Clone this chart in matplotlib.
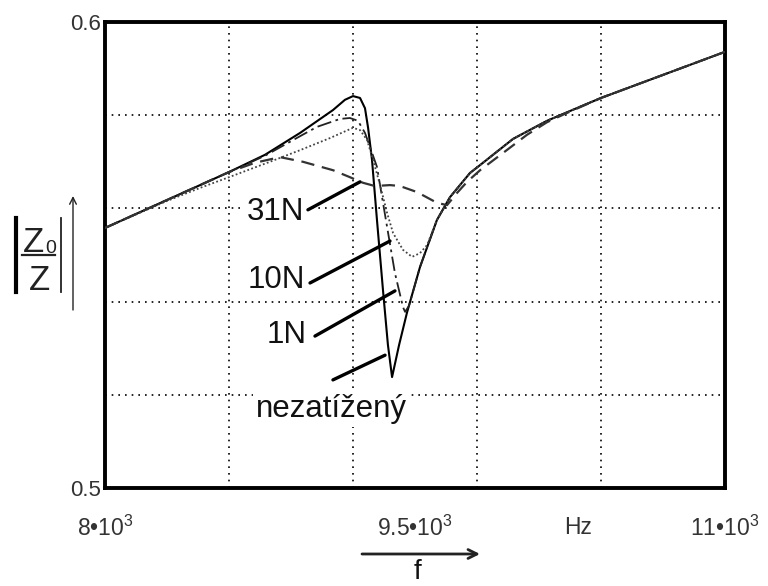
import matplotlib
matplotlib.use("Agg")
import matplotlib.pyplot as plt
from matplotlib.lines import Line2D

plt.rcParams['font.family'] = ['Liberation Sans', 'DejaVu Sans']
plt.rcParams['mathtext.fontset'] = 'custom'
plt.rcParams['mathtext.rm'] = 'Liberation Sans'
plt.rcParams['mathtext.it'] = 'Liberation Sans'

# ---------------- data ----------------
# unloaded ("nezatížený") - solid
f_unloaded = [8000, 8300, 8600, 8774, 8944, 9103, 9161, 9200, 9234, 9258, 9273,
              9292, 9316, 9345, 9369, 9389, 9423, 9461, 9524, 9606, 9669, 9766,
              9815, 9974, 10139, 10298, 10400, 10685, 11000]
z_unloaded = [0.5558, 0.5618, 0.5678, 0.5715, 0.5762, 0.5811, 0.5833, 0.5841, 0.5837,
              0.5815, 0.5773, 0.5704, 0.5575, 0.5425, 0.5307, 0.5238, 0.5307, 0.5376,
              0.5474, 0.5575, 0.5624, 0.5676, 0.5693, 0.5749, 0.5788, 0.5818, 0.5837,
              0.5884, 0.5936]

# 1N - dash-dot
f_1n = [8000, 8300, 8600, 8774, 8944, 9026, 9137, 9185, 9224, 9258, 9282, 9316,
        9365, 9403, 9442, 9452, 9471, 9524, 9606, 9669, 9766, 9815, 9974, 10139,
        10298, 10400, 10685, 11000]
z_1n = [0.5558, 0.5618, 0.5678, 0.5713, 0.5755, 0.5775, 0.5792, 0.5794, 0.5788,
        0.5762, 0.5732, 0.5689, 0.5560, 0.5461, 0.5388, 0.5378, 0.5391, 0.5474,
        0.5575, 0.5624, 0.5676, 0.5693, 0.5749, 0.5788, 0.5818, 0.5837, 0.5884,
        0.5936]

# 10N - dotted
f_10n = [8000, 8300, 8460, 8600, 8798, 8944, 9089, 9200, 9234, 9268, 9297, 9331,
         9365, 9394, 9442, 9486, 9524, 9558, 9606, 9669, 9766, 9815, 9974, 10139,
         10298, 10400, 10685, 11000]
z_10n = [0.5558, 0.5616, 0.5644, 0.5667, 0.5700, 0.5725, 0.5751, 0.5773, 0.5768,
         0.5747, 0.5704, 0.5650, 0.5590, 0.5547, 0.5511, 0.5496, 0.5504, 0.5521,
         0.5575, 0.5624, 0.5676, 0.5693, 0.5749, 0.5788, 0.5818, 0.5837, 0.5884,
         0.5936]

# 31N - dashed
f_31n = [8000, 8300, 8600, 8726, 8847, 8958, 9103, 9185, 9248, 9306, 9379, 9427,
         9510, 9606, 9655, 9703, 9752, 9815, 9926, 10042, 10139, 10226, 10400,
         10685, 11000]
z_31n = [0.5558, 0.5618, 0.5678, 0.5698, 0.5710, 0.5700, 0.5682, 0.5667, 0.5655,
         0.5648, 0.5650, 0.5648, 0.5635, 0.5612, 0.5607, 0.5633, 0.5657, 0.5682,
         0.5719, 0.5758, 0.5785, 0.5803, 0.5837, 0.5884, 0.5936]

grid_x = [8600, 9200, 9800, 10400]
grid_y = [0.52, 0.54, 0.56, 0.58]
xlabel_pos = [8000, 9500, 10290, 11000]
xlabel_txt = ['8•10$^{3}$', '9.5•10$^{3}$', 'Hz', '11•10$^{3}$']
ylabel_pos = [0.5, 0.6]
ylabel_txt = ['0.5', '0.6']

# labels: text, text position, leader start, leader end
labels = ['31N', '10N', '1N', 'nezatížený']
label_xy = [(8827, 0.5592), (8827, 0.5446), (8881, 0.5328), (9094, 0.5170)]
lead_from = [(8982, 0.5597), (8992, 0.5440), (9016, 0.5326), (9103, 0.5232)]
lead_to = [(9234, 0.5657), (9379, 0.5530), (9403, 0.5423), (9355, 0.5285)]

# ---------------- figure ----------------
W, H = 768, 586
fig = plt.figure(figsize=(W / 100, H / 100), dpi=100)
ax = fig.add_axes([105 / W, 1 - 488 / H, 620 / W, 466 / H])

ax.plot(f_unloaded, z_unloaded, color='black', lw=1.5, zorder=4)
ax.plot(f_1n, z_1n, color='#222222', lw=1.3, ls=(0, (8, 2.5, 1.5, 2.5)), zorder=4)
ax.plot(f_10n, z_10n, color='#444444', lw=1.3, ls=(0, (1, 1.3)), zorder=4)
ax.plot(f_31n, z_31n, color='#333333', lw=1.6, ls=(0, (6, 3.5)), zorder=4)

ax.set_xlim(8000, 11000)
ax.set_ylim(0.5, 0.6)

ax.set_xticks(grid_x)
ax.set_xticklabels([])
ax.set_yticks(grid_y)
ax.set_yticklabels([])
ax.set_xticks(xlabel_pos, minor=True)
ax.set_xticklabels(xlabel_txt, minor=True, fontsize=16.5, color='#333333')
ax.set_yticks(ylabel_pos, minor=True)
ax.set_yticklabels(ylabel_txt, minor=True, fontsize=16, color='#333333')
ax.tick_params(axis='both', which='both', length=0)
ax.tick_params(axis='x', which='minor', pad=20)
ax.tick_params(axis='y', which='minor', pad=3)
ax.grid(True, which='major', color='black', lw=1.2, ls=(0, (1, 3.0)))

for s in ax.spines.values():
    s.set_linewidth(2.8)
    s.set_color('black')

for txt, xy, p0, p1 in zip(labels, label_xy, lead_from, lead_to):
    ax.text(xy[0], xy[1], txt, fontsize=22.5, ha='center', va='center', color='#111111',
            zorder=2, bbox=dict(facecolor='white', edgecolor='none', pad=2))
    ax.annotate('', xy=p1, xytext=p0,
                arrowprops=dict(arrowstyle='-', lw=2.4, color='black',
                                shrinkA=0, shrinkB=0), zorder=5)


def fx(px):
    return px / W


def fy(py):
    return 1 - py / H


# y-axis label |Z0/Z|
fig.add_artist(Line2D([fx(16), fx(16)], [fy(218), fy(292)], color='black', lw=3.0))
fig.add_artist(Line2D([fx(61), fx(61)], [fy(218), fy(292)], color='#222222', lw=1.3))
fig.add_artist(Line2D([fx(22), fx(55)], [fy(255), fy(255)], color='#222222', lw=1.6))
fig.text(fx(33), fy(252), 'Z', fontsize=25, ha='center', va='baseline', color='#222222')
fig.text(fx(51), fy(253), '0', fontsize=14, ha='center', va='baseline', color='#222222')
fig.text(fx(39), fy(290), 'Z', fontsize=25, ha='center', va='baseline', color='#222222')
ax.annotate('', xy=(fx(73), fy(196)), xytext=(fx(73), fy(310)),
            xycoords='figure fraction', textcoords='figure fraction',
            arrowprops=dict(arrowstyle='->', lw=1.0, color='#222222',
                            shrinkA=0, shrinkB=0, mutation_scale=12))

# x-axis label: arrow and f
ax.annotate('', xy=(fx(480), fy(554)), xytext=(fx(362), fy(554)),
            xycoords='figure fraction', textcoords='figure fraction',
            arrowprops=dict(arrowstyle='->', lw=2.0, color='#222222',
                            shrinkA=0, shrinkB=0, mutation_scale=16))
fig.text(fx(418), fy(585), 'f', fontsize=20, ha='center', va='bottom', color='#111111')

fig.savefig('out.png', dpi=100)
